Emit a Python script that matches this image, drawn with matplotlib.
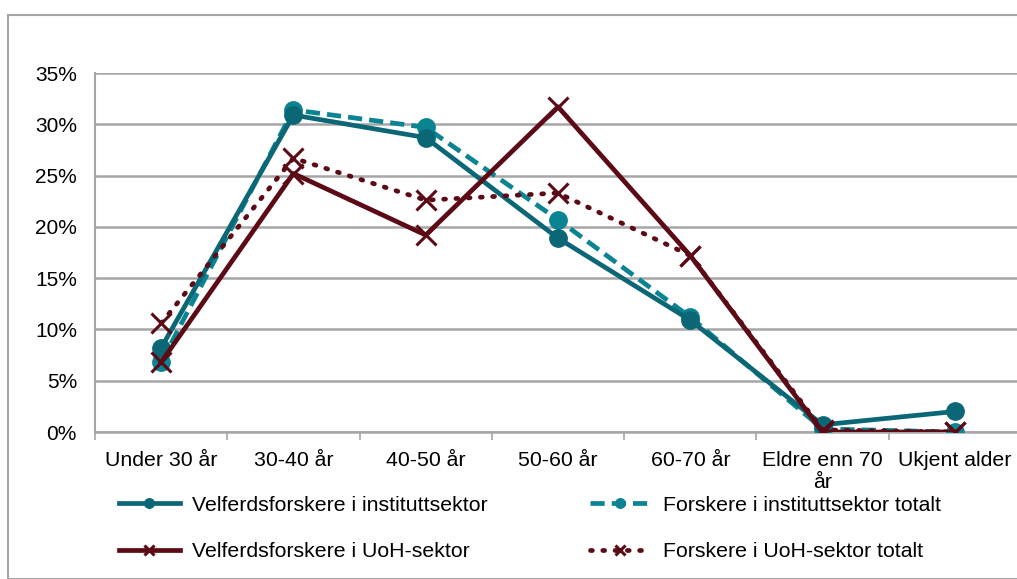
import matplotlib
matplotlib.use("Agg")
import matplotlib.pyplot as plt
from matplotlib.patches import Rectangle
from matplotlib.ticker import FuncFormatter, FixedLocator

plt.rcParams['font.family'] = ['Liberation Sans', 'DejaVu Sans']

categories = ["Under 30 år", "30-40 år", "40-50 år", "50-60 år", "60-70 år", "Eldre enn 70\når", "Ukjent alder"]
velferd_institutt = [8.2, 30.9, 28.7, 18.9, 10.9, 0.7, 2.0]
forskere_institutt = [6.8, 31.4, 29.7, 20.7, 11.2, 0.3, 0.0]
velferd_uoh = [6.8, 25.2, 19.2, 31.7, 17.2, 0.0, 0.0]
forskere_uoh = [10.6, 26.7, 22.6, 23.3, 17.2, 0.2, 0.0]
yticks = [0, 5, 10, 15, 20, 25, 30, 35]

teal_dark = "#0b6776"
teal_light = "#0a8393"
red_dark = "#5c0a16"

fig = plt.figure(figsize=(10.17, 5.79), dpi=100)
fig.patches.append(Rectangle((8/1017, 0), 1.2, 1 - 15/579, transform=fig.transFigure,
                             fill=False, edgecolor="#a6a6a6", linewidth=1.5))

ax = fig.add_axes([95/1017, 1 - 432/579, (1021 - 95)/1017, (432 - 73)/579])
x = list(range(len(categories)))

l2, = ax.plot(x, forskere_institutt, color=teal_light, lw=3.4, ls=(0, (3, 1.5)),
              marker='o', ms=12.5, zorder=3, label="Forskere i instituttsektor totalt")
l1, = ax.plot(x, velferd_institutt, color=teal_dark, lw=3.4, ls='-',
              marker='o', ms=12.5, zorder=4, label="Velferdsforskere i instituttsektor")
l3, = ax.plot(x, velferd_uoh, color=red_dark, lw=3.4, ls='-',
              marker='x', ms=14, mew=2.2, zorder=5, label="Velferdsforskere i UoH-sektor")
l4, = ax.plot(x, forskere_uoh, color=red_dark, lw=3.4, ls=(0, (0.4, 2.2)), dash_capstyle='round',
              marker='x', ms=14, mew=2.2, zorder=6, label="Forskere i UoH-sektor totalt")

ax.set_xlim(-0.5, len(categories) - 0.5)
ax.set_ylim(0, 35)
ax.set_yticks(yticks)
ax.yaxis.set_major_formatter(FuncFormatter(lambda v, p: f"{int(v)}%"))
ax.yaxis.grid(True, color="#a6a6a6", lw=1.8)
ax.set_axisbelow(True)
ax.tick_params(axis='y', length=0, labelsize=15, pad=13)
ax.set_xticks(x)
ax.set_xticklabels(categories, fontsize=15.3, linespacing=1.2)
ax.tick_params(axis='x', which='major', length=0, pad=14)
ax.xaxis.set_minor_locator(FixedLocator([i - 0.5 for i in range(len(categories) + 1)]))
ax.tick_params(axis='x', which='minor', length=6, width=1.2, color="#a6a6a6", direction='out')
for s in ['top', 'right']:
    ax.spines[s].set_visible(False)
ax.spines['left'].set_color("#a6a6a6")
ax.spines['left'].set_linewidth(1.5)
ax.spines['bottom'].set_color("#a6a6a6")
ax.spines['bottom'].set_linewidth(1.8)

leg = fig.legend(handles=[l1, l3, l2, l4], ncol=2, loc='upper left',
                 bbox_to_anchor=(108/1017, 1 - 485/579), frameon=False, fontsize=15.3,
                 handlelength=2.9, handletextpad=0.55, columnspacing=4.8, labelspacing=1.3,
                 markerscale=0.55, borderpad=0)

fig.savefig("out.png", dpi=100)
